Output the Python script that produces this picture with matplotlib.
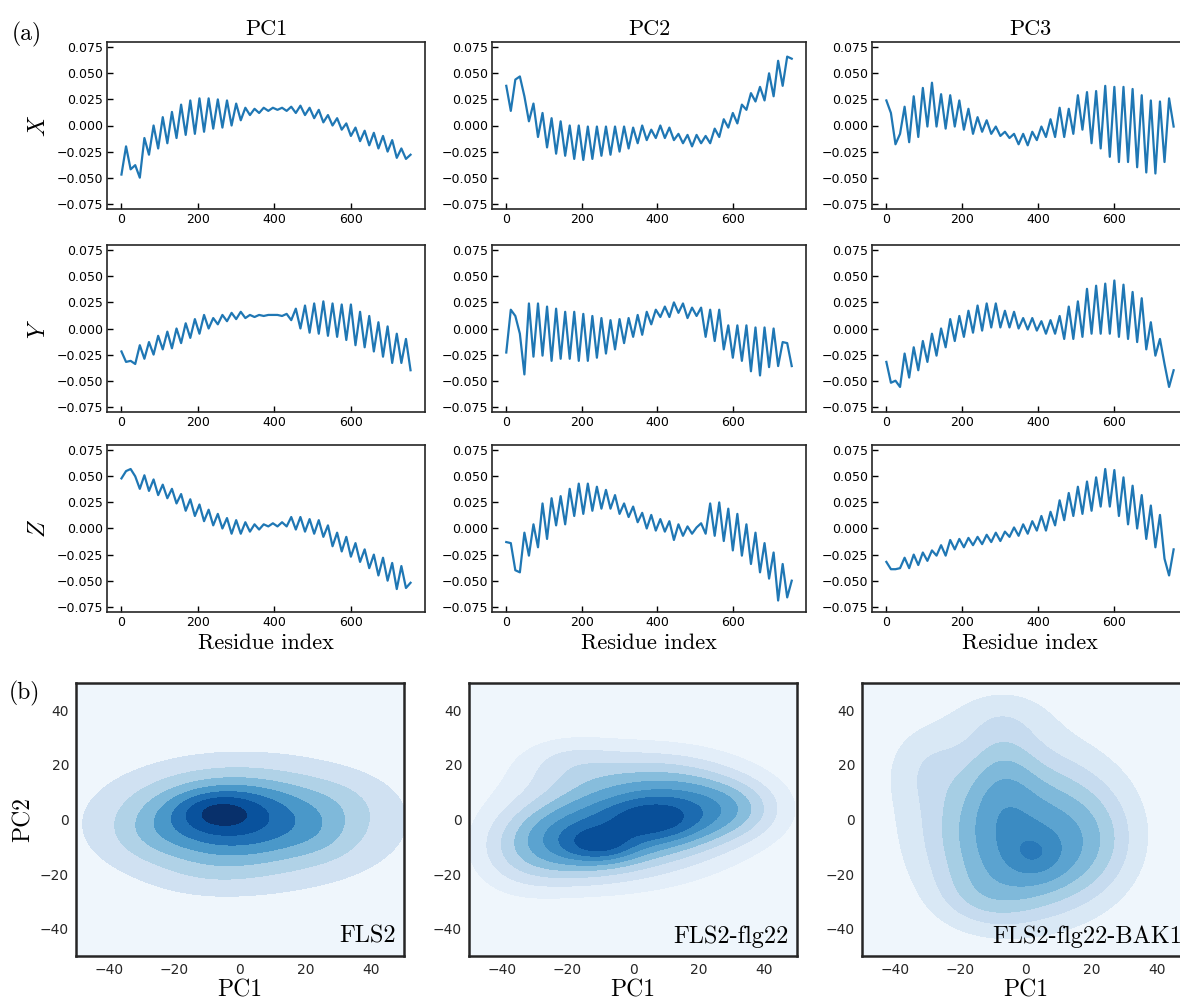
import numpy as np
import matplotlib
matplotlib.use("Agg")
import matplotlib.pyplot as plt

# ---------------- data: top 3x3 panels (values in units of 1e-3) ----------------
residue = [0, 12, 24, 36, 48, 60, 72, 84, 96, 108, 120, 132, 144, 156, 168, 180,
           192, 204, 216, 228, 240, 252, 264, 276, 288, 300, 312, 324, 336, 348,
           360, 372, 384, 396, 408, 420, 432, 444, 456, 468, 480, 492, 504, 516,
           528, 540, 552, 564, 576, 588, 600, 612, 624, 636, 648, 660, 672, 684,
           696, 708, 720, 732, 744, 756]

pc1_x = [-47, -20, -42, -38, -50, -12, -28, 0, -22, 8, -17, 13, -12, 20, -9, 24,
         -8, 26, -6, 26, -3, 25, -2, 24, 0, 21, 5, 17, 10, 16, 12, 17, 14, 17,
         15, 17, 14, 18, 12, 19, 10, 17, 7, 15, 3, 10, 0, 7, -4, 2, -10, -2,
         -15, -5, -19, -7, -22, -10, -25, -14, -31, -22, -32, -28]
pc1_y = [-22, -32, -31, -34, -16, -29, -13, -25, -7, -20, -3, -19, 0, -14, 5, -9,
         9, -5, 13, 0, 10, 4, 13, 7, 15, 9, 16, 10, 13, 11, 13, 12, 13, 13, 13,
         12, 14, 8, 19, 0, 22, -4, 24, -5, 26, -7, 24, -8, 23, -11, 23, -16, 16,
         -18, 12, -22, 6, -27, 2, -33, -5, -33, -10, -40]
pc1_z = [48, 55, 57, 50, 38, 51, 36, 47, 32, 42, 29, 38, 24, 33, 17, 28, 12, 23,
         7, 18, 3, 14, 0, 10, -5, 8, -5, 6, -3, 4, -1, 4, 2, 5, 2, 6, 2, 11, -1,
         11, -3, 9, -5, 8, -8, 3, -17, -4, -22, -8, -27, -14, -32, -20, -38, -25,
         -45, -28, -50, -33, -58, -36, -57, -52]

pc2_x = [38, 14, 44, 47, 28, 4, 21, -11, 12, -21, 7, -27, 4, -29, 0, -32, 0,
         -33, -1, -32, -1, -29, -1, -28, -1, -25, -1, -22, -2, -17, 0, -14, -4,
         -12, 0, -12, -2, -14, -8, -17, -9, -20, -9, -17, -10, -17, -3, -11, 6,
         -2, 12, 2, 20, 15, 31, 23, 37, 24, 50, 28, 62, 38, 66, 64]
pc2_y = [-23, 18, 12, -5, -44, 24, -27, 24, -26, 21, -31, 19, -29, 16, -29, 16,
         -31, 14, -31, 12, -28, 10, -24, 8, -20, 9, -14, 10, -8, 13, -6, 16, 4,
         18, 11, 21, 11, 25, 15, 24, 10, 20, 12, 20, -8, 18, -12, 18, -20, 3,
         -28, 3, -31, 3, -41, 1, -45, 1, -37, 0, -36, -13, -14, -36]
pc2_z = [-13, -14, -40, -42, -4, -26, 4, -18, 24, -10, 29, 3, 31, 4, 38, 12, 43,
         14, 43, 17, 40, 19, 37, 19, 32, 14, 24, 11, 21, 6, 15, 0, 13, -2, 9, -3,
         7, -11, 4, -7, 2, -5, 1, 5, -5, 24, -7, 25, -12, 19, -21, 14, -26, 4,
         -34, -4, -42, -14, -48, -23, -69, -34, -66, -50]

pc3_x = [24, 12, -18, -8, 18, -16, 28, -11, 36, -1, 41, -1, 30, -3, 29, -1, 24,
         -4, 16, -8, 8, -6, 5, -8, -1, -10, -6, -12, -8, -18, -8, -19, -6, -14,
         -1, -11, 6, -11, 17, -11, 16, -8, 29, -4, 32, -17, 33, -22, 38, -30, 37,
         -35, 37, -35, 35, -40, 29, -45, 24, -46, 23, -35, 26, -1]
pc3_y = [-32, -52, -50, -56, -24, -47, -18, -40, -12, -32, -5, -26, 0, -18, 9,
         -12, 12, -8, 17, -4, 22, -2, 24, 1, 24, 1, 17, 1, 16, 0, 10, -1, 10, -2,
         7, -5, 8, -5, 12, -10, 21, -10, 26, -8, 38, -5, 41, -5, 43, -5, 46, -8,
         42, -10, 35, -13, 29, -20, 6, -26, -10, -34, -56, -40]
pc3_z = [-32, -39, -39, -38, -28, -38, -25, -35, -23, -31, -21, -26, -16, -26,
         -11, -20, -10, -18, -9, -16, -8, -15, -6, -13, -4, -12, -3, -8, 1, -7, 4,
         -5, 7, -2, 12, -2, 16, 3, 27, 8, 34, 12, 40, 14, 45, 17, 49, 21, 57, 21,
         56, 12, 49, 4, 41, 0, 32, -10, 22, -18, 13, -29, -45, -20]

row_labels = ["$X$", "$Y$", "$Z$"]
col_titles = ["PC1", "PC2", "PC3"]
series = [[pc1_x, pc2_x, pc3_x],
          [pc1_y, pc2_y, pc3_y],
          [pc1_z, pc2_z, pc3_z]]
y_ticks = [-0.075, -0.050, -0.025, 0.000, 0.025, 0.050, 0.075]
x_ticks = [0, 200, 400, 600]

# ---------------- data: bottom density panels ----------------
kde_names = ["FLS2", "FLS2-flg22", "FLS2-flg22-BAK1"]
kde_ticks = [-40, -20, 0, 20, 40]

# density components: centre (PC1, PC2), weight, spread
fls2_c1 = [-6, -4, 2, 24, -28, 30, -10]
fls2_c2 = [2.5, 1, -1.5, -6, -6, 6, -20]
fls2_w = [0.25, 0.35, 0.40, 0.05, 0.05, 0.05, 0.04]
fls2_s1 = [7, 16, 28.5, 8, 9, 10, 12]
fls2_s2 = [4, 9, 15, 6, 7, 7, 6]
fls2_levels = [0, 0.10, 0.21, 0.32, 0.43, 0.55, 0.69, 0.87, 1.01]
fls2_tones = [0.04, 0.20, 0.32, 0.45, 0.60, 0.75, 0.87, 1.00]

flg22_c1 = [-10, 6, -22, -5, 15, 30, 0, -35, -20, 0]
flg22_c2 = [-9, 0, -8, -3, 3, 4, 15, -15, 22, 0]
flg22_w = [0.25, 0.25, 0.25, 0.30, 0.25, 0.15, 0.10, 0.06, 0.05, 0.10]
flg22_s1 = [7, 9, 12, 14, 12, 10, 20, 10, 10, 30]
flg22_s2 = [4, 5, 9, 10, 9, 7, 8, 10, 6, 18]
flg22_levels = [0, 0.07, 0.14, 0.22, 0.31, 0.41, 0.53, 0.66, 0.82, 1.01]
flg22_tones = [0.04, 0.10, 0.20, 0.30, 0.43, 0.55, 0.65, 0.77, 0.88]

bak1_c1 = [3, 0, -7, -2, -30, -12, 18, -8]
bak1_c2 = [-14, -10, 12, -2, 20, -28, -8, 38]
bak1_w = [0.20, 0.35, 0.20, 0.35, 0.10, 0.12, 0.12, 0.08]
bak1_s1 = [6.5, 15, 7, 21, 9, 10, 9, 12]
bak1_s2 = [6.5, 15, 14, 21, 11, 8, 12, 8]
bak1_levels = [0, 0.10, 0.20, 0.31, 0.44, 0.60, 0.80, 0.97, 1.01]
bak1_tones = [0.04, 0.15, 0.25, 0.35, 0.45, 0.55, 0.65, 0.72]

kde_sets = [(fls2_c1, fls2_c2, fls2_w, fls2_s1, fls2_s2, fls2_levels, fls2_tones),
            (flg22_c1, flg22_c2, flg22_w, flg22_s1, flg22_s2, flg22_levels, flg22_tones),
            (bak1_c1, bak1_c2, bak1_w, bak1_s1, bak1_s2, bak1_levels, bak1_tones)]

# ---------------- figure ----------------
W, H = 1180, 1001
fig = plt.figure(figsize=(W / 100, H / 100), dpi=100)
plt.rcParams["mathtext.fontset"] = "cm"
SERIF = "cmr10"


def add_ax(l, t, r, b):
    return fig.add_axes([l / W, 1 - b / H, (r - l) / W, (b - t) / H])


col_x = [(107, 425), (492, 806), (872, 1188)]
row_y = [(42, 209), (245, 412), (445, 612)]
res = np.array(residue)

for i in range(3):
    for j in range(3):
        ax = add_ax(col_x[j][0], row_y[i][0], col_x[j][1], row_y[i][1])
        ax.plot(res, np.array(series[i][j]) / 1000.0, color="#1f77b4", lw=1.6)
        ax.set_ylim(-0.08, 0.08)
        ax.set_yticks(y_ticks)
        ax.set_yticklabels([f"{v:.3f}".replace("-", "\u2212") for v in y_ticks])
        ax.set_xticks(x_ticks)
        ax.tick_params(direction="in", length=4, width=1, labelsize=9,
                       colors="black", pad=3)
        for s in ax.spines.values():
            s.set_linewidth(1.2)
            s.set_color("#262626")
        if i == 0:
            ax.set_title(col_titles[j], fontfamily=SERIF, fontsize=16, pad=5)
        if j == 0:
            ax.set_ylabel(row_labels[i], fontsize=17)
            ax.yaxis.set_label_coords(-0.18, 0.5)
        if i == 2:
            ax.set_xlabel("Residue index", fontfamily=SERIF, fontsize=16,
                          labelpad=3)

cmap = plt.get_cmap("Blues")
gx = np.linspace(-65, 65, 261)
GX, GY = np.meshgrid(gx, gx)
kde_cols = [(76, 404), (469, 797), (862, 1190)]
for k in range(3):
    c1, c2, w, s1, s2, levels, tones = kde_sets[k]
    Z = np.zeros_like(GX)
    for a, b, c, sa, sb in zip(c1, c2, w, s1, s2):
        Z += c * np.exp(-0.5 * (((GX - a) / sa) ** 2 + ((GY - b) / sb) ** 2))
    Z = Z / Z.max()
    ax = add_ax(kde_cols[k][0], 683, kde_cols[k][1], 956)
    ax.set_facecolor(cmap(tones[0]))
    ax.contourf(GX, GY, Z, levels=levels, colors=[cmap(t) for t in tones])
    ax.set_xlim(-50, 50)
    ax.set_ylim(-50, 50)
    ax.set_xticks(kde_ticks)
    ax.set_yticks(kde_ticks)
    ax.set_xticklabels([str(v).replace("-", "\u2212") for v in kde_ticks])
    ax.set_yticklabels([str(v).replace("-", "\u2212") for v in kde_ticks])
    ax.tick_params(length=0, labelsize=10, colors="#262626", pad=5)
    for s in ax.spines.values():
        s.set_linewidth(1.8)
        s.set_color("#262626")
    ax.set_xlabel("PC1", fontfamily=SERIF, fontsize=17, labelpad=2)
    if k == 0:
        ax.set_ylabel("PC2", fontfamily=SERIF, fontsize=17, labelpad=4)
    ax.text(0.975, 0.03, kde_names[k], transform=ax.transAxes, ha="right",
            va="bottom", fontfamily=SERIF, fontsize=17.5)

fig.text(12 / W, 1 - 34 / H, "(a)", fontfamily=SERIF, fontsize=17, va="center")
fig.text(9 / W, 1 - 693 / H, "(b)", fontfamily=SERIF, fontsize=17, va="center")

fig.savefig("out.png", dpi=100)
